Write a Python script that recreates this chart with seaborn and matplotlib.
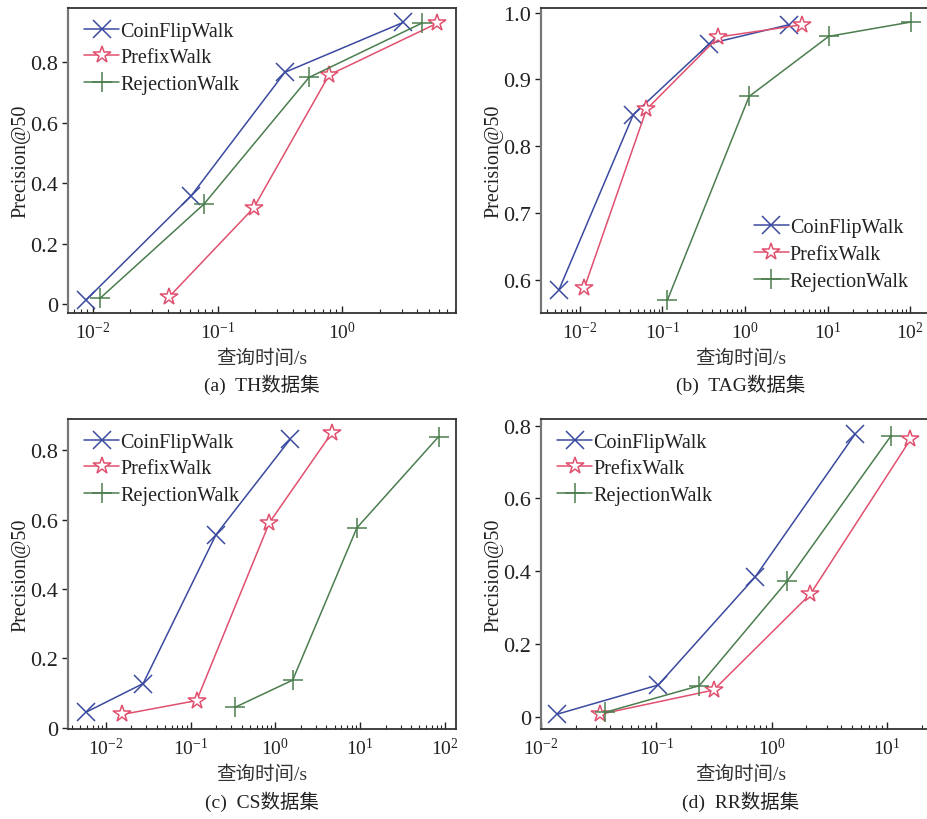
import numpy as np
import pandas as pd
import matplotlib
matplotlib.use("Agg")
import matplotlib.pyplot as plt
import seaborn as sns
from matplotlib.ticker import FuncFormatter, LogLocator, NullFormatter

# ---- data: query time (s) and Precision@50 per method ----
methods = ["CoinFlipWalk", "PrefixWalk", "RejectionWalk"]

th_time = {
    "CoinFlipWalk": [0.0088, 0.0617, 0.347, 3.08],
    "PrefixWalk": [0.041, 0.195, 0.785, 5.82],
    "RejectionWalk": [0.0115, 0.078, 0.542, 4.37],
}
th_prec = {
    "CoinFlipWalk": [0.013, 0.359, 0.767, 0.932],
    "PrefixWalk": [0.024, 0.318, 0.758, 0.930],
    "RejectionWalk": [0.020, 0.331, 0.750, 0.930],
}

tag_time = {
    "CoinFlipWalk": [0.0056, 0.0443, 0.37, 3.41],
    "PrefixWalk": [0.0113, 0.064, 0.475, 4.95],
    "RejectionWalk": [0.115, 1.12, 10.3, 102.0],
}
tag_prec = {
    "CoinFlipWalk": [0.585, 0.847, 0.9535, 0.982],
    "PrefixWalk": [0.587, 0.855, 0.9635, 0.982],
    "RejectionWalk": [0.5695, 0.8745, 0.9645, 0.986],
}

cs_time = {
    "CoinFlipWalk": [0.0058, 0.0276, 0.199, 1.49],
    "PrefixWalk": [0.0157, 0.118, 0.85, 4.63],
    "RejectionWalk": [0.334, 1.6, 9.14, 84.0],
}
cs_prec = {
    "CoinFlipWalk": [0.044, 0.127, 0.556, 0.831],
    "PrefixWalk": [0.038, 0.078, 0.591, 0.850],
    "RejectionWalk": [0.0585, 0.137, 0.576, 0.839],
}

rr_time = {
    "CoinFlipWalk": [0.0137, 0.104, 0.72, 5.3],
    "PrefixWalk": [0.0323, 0.314, 2.17, 16.0],
    "RejectionWalk": [0.0361, 0.236, 1.36, 10.8],
}
rr_prec = {
    "CoinFlipWalk": [0.0064, 0.087, 0.384, 0.777],
    "PrefixWalk": [0.0064, 0.073, 0.337, 0.762],
    "RejectionWalk": [0.012, 0.085, 0.372, 0.771],
}

captions = ["(a)  TH数据集", "(b)  TAG数据集", "(c)  CS数据集", "(d)  RR数据集"]
xlabel = "查询时间/s"
ylabel = "Precision@50"

# ---- styling ----
sns.set_theme(style="white")
plt.rcParams["font.family"] = ["Liberation Serif", "Noto Sans CJK SC"]
plt.rcParams["mathtext.fontset"] = "stix"

colors = {"CoinFlipWalk": "#3a4a9f", "PrefixWalk": "#e0506f", "RejectionWalk": "#4b7d4e"}
marker_style = {
    "CoinFlipWalk": dict(marker="x", markersize=12.5, markeredgewidth=1.1),
    "PrefixWalk": dict(marker="*", markersize=13, markeredgewidth=1.1,
                       markerfacecolor="white"),
    "RejectionWalk": dict(marker="+", markersize=15, markeredgewidth=1.1),
}

W, H = 927, 820
fig = plt.figure(figsize=(W / 100, H / 100), dpi=100)


def frac(l, t, r, b):
    return [l / W, 1 - b / H, (r - l) / W, (b - t) / H]


panels = [
    dict(pos=frac(68, 9, 456, 314), time=th_time, prec=th_prec,
         xlim=(10 ** -2.2, 10 ** 0.914), ylim=(-0.03, 0.98),
         yticks=[0, 0.2, 0.4, 0.6, 0.8], legend_loc=(0.01, 0.995)),
    dict(pos=frac(541, 9, 940, 314), time=tag_time, prec=tag_prec,
         xlim=(10 ** -2.47, 10 ** 2.36), ylim=(0.55, 1.007),
         yticks=[0.6, 0.7, 0.8, 0.9, 1.0], legend_loc=(0.5025, 0.35)),
    dict(pos=frac(68, 420, 456, 730), time=cs_time, prec=cs_prec,
         xlim=(10 ** -2.445, 10 ** 2.13), ylim=(-0.004, 0.89),
         yticks=[0, 0.2, 0.4, 0.6, 0.8], legend_loc=(0.01, 0.995)),
    dict(pos=frac(541, 420, 940, 730), time=rr_time, prec=rr_prec,
         xlim=(10 ** -2.0, 10 ** 1.46), ylim=(-0.034, 0.818),
         yticks=[0, 0.2, 0.4, 0.6, 0.8], legend_loc=(0.01, 0.995)),
]


def yfmt(v, _):
    return "0" if abs(v) < 1e-9 else f"{v:.1f}"


for p, cap in zip(panels, captions):
    ax = fig.add_axes(p["pos"])
    for m in methods:
        df = pd.DataFrame({"time": p["time"][m], "prec": p["prec"][m]})
        sns.lineplot(data=df, x="time", y="prec", ax=ax, color=colors[m],
                     linewidth=1.1, label=m, markeredgecolor=colors[m],
                     **marker_style[m])
    ax.set_xscale("log")
    ax.set_xlim(*p["xlim"])
    ax.set_ylim(*p["ylim"])
    ax.set_yticks(p["yticks"])
    ax.yaxis.set_major_formatter(FuncFormatter(yfmt))
    ax.xaxis.set_major_locator(LogLocator(base=10, numticks=20))
    ax.xaxis.set_minor_locator(LogLocator(base=10, subs=np.arange(2, 10), numticks=100))
    ax.xaxis.set_minor_formatter(NullFormatter())

    ax.tick_params(axis="x", which="major", direction="in", length=5, width=1.0,
                   labelsize=14, pad=6, colors="#222", bottom=True)
    ax.tick_params(axis="x", which="minor", direction="in", length=3, width=0.8,
                   bottom=True, colors="#222")
    ax.tick_params(axis="y", which="major", direction="out", length=4, width=1.0,
                   labelsize=16, pad=3, colors="#222", left=True)
    for s in ["top", "right", "bottom"]:
        ax.spines[s].set_color("#333")
        ax.spines[s].set_linewidth(1.3)
    ax.spines["left"].set_color("#777")
    ax.spines["left"].set_linewidth(1.6)

    ax.set_xlabel(xlabel, fontsize=14, color="#333", labelpad=4)
    ax.set_ylabel(ylabel, fontsize=14.5, color="#222", labelpad=0)
    ax.text(0.5, -0.198, cap, transform=ax.transAxes, ha="center", va="top",
            fontsize=14, color="#222")

    leg = ax.legend(loc="upper left", bbox_to_anchor=p["legend_loc"],
                    frameon=False, fontsize=14.5, handlelength=1.75, handletextpad=0.05,
                    labelspacing=0.38, borderaxespad=0.2)
    for t in leg.get_texts():
        t.set_color("#222")

fig.savefig("out.png", dpi=100)
